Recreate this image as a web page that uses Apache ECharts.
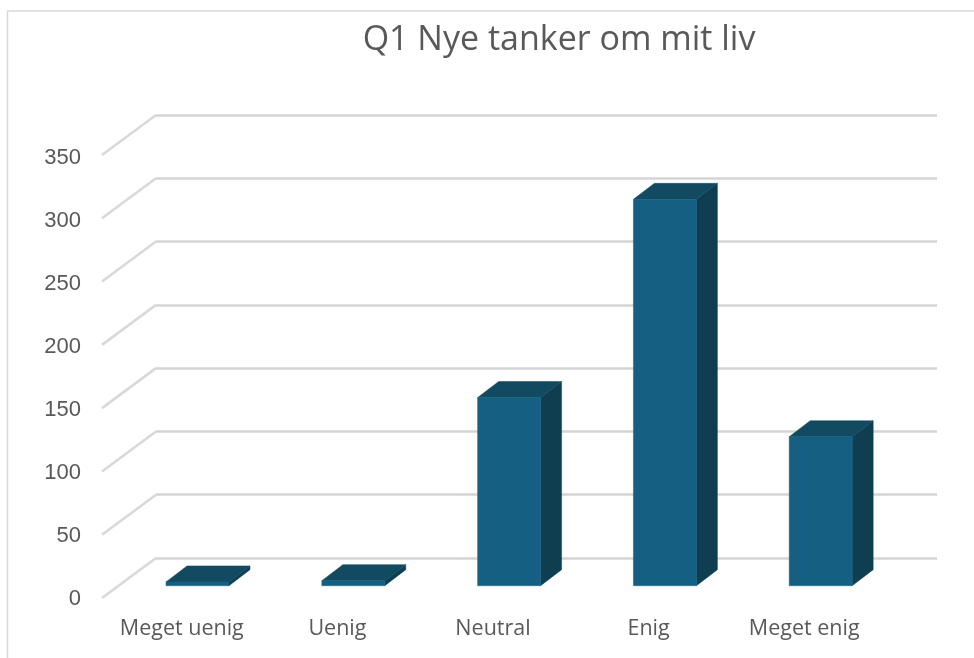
<!DOCTYPE html>
<html><head><meta charset="utf-8">
<style>html,body{margin:0;padding:0;background:#fff}#c{width:974px;height:658px}</style>
<script src="https://cdn.jsdelivr.net/npm/echarts@6/dist/echarts.min.js"></script>
</head><body><div id="c"></div>
<script>
const titleText = 'Q1 Nye tanker om mit liv';
const categories = ['Meget uenig', 'Uenig', 'Neutral', 'Enig', 'Meget enig'];
const values = [3, 4, 149, 306, 118];
const ticks = [0, 50, 100, 150, 200, 250, 300, 350];

const FRONT = '#156082', TOP = '#124a62', SIDE = '#0e3e50';
const DX = 21, DY = 16, BAR_RATIO = 0.404;
const WALL_DX = 54, WALL_DY = 40;
const TXT = '#595959';
const hiddenCat = i => ({type:'category', gridIndex:i, data:categories, show:false});
const hiddenVal = i => ({type:'value', gridIndex:i, min:0, max:350, interval:50, show:false});

const chart = echarts.init(document.getElementById('c'), null, {renderer:'canvas'});
chart.setOption({
  animation:false,
  backgroundColor:'#fff',
  title:{text:titleText, left:560, top:18, textAlign:'center',
    textStyle:{color:TXT, fontFamily:'Open Sans', fontSize:34, fontWeight:'normal'}},
  graphic:[
    {type:'polyline', silent:true, shape:{points:[[7.5,658],[7.5,11],[974,11]]},
     style:{stroke:'#d9d9d9', lineWidth:1.5, fill:null}}
  ],
  grid:[
    {left:156, right:37, top:115, height:443},
    {left:104, width:778, top:158, height:441},
    {left:119.6, width:779, top:143.8, height:441.9}
  ],
  xAxis:[
    hiddenCat(0),
    {type:'category', gridIndex:1, data:categories, axisLine:{show:false}, axisTick:{show:false},
     axisLabel:{color:TXT, fontFamily:'Open Sans', fontSize:21.5, margin:19, interval:0, hideOverlap:false}},
    hiddenCat(2)
  ],
  yAxis:[
    {type:'value', gridIndex:0, min:0, max:350, interval:50, axisLine:{show:false}, axisTick:{show:false},
     axisLabel:{show:false}, splitLine:{show:true, lineStyle:{color:'#d4d4d4', width:2.6}}},
    {type:'value', gridIndex:1, min:0, max:350, interval:50, axisLine:{show:false}, axisTick:{show:false},
     axisLabel:{color:TXT, fontFamily:'Liberation Sans', fontSize:22, margin:23}, splitLine:{show:false}},
    hiddenVal(2)
  ],
  series:[
    {type:'custom', xAxisIndex:0, yAxisIndex:0, silent:true, z:1,
     data:ticks.map(v=>[0,v]),
     renderItem(params, api){
       const y = api.coord([0, api.value(1)])[1];
       const x = params.coordSys.x;
       return {type:'line', shape:{x1:x, y1:y, x2:x-WALL_DX, y2:y+WALL_DY},
         style:{stroke:'#d9d9d9', lineWidth:2.6}};
     }},
    {type:'custom', xAxisIndex:2, yAxisIndex:2, silent:true, z:3,
     data:values.map((v,i)=>[i,v]),
     renderItem(params, api){
       const top = api.coord([api.value(0), api.value(1)]);
       const base = api.coord([api.value(0), 0]);
       const w = api.size([1,0])[0]*BAR_RATIO;
       const l = top[0]-w/2, r = top[0]+w/2, t = top[1], b = base[1];
       return {type:'group', children:[
         {type:'polygon', shape:{points:[[r,t],[r+DX,t-DY],[r+DX,b-DY],[r,b]]},
          style:{fill:SIDE, stroke:SIDE, lineWidth:0.5}},
         {type:'polygon', shape:{points:[[l,t],[l+DX,t-DY],[r+DX,t-DY],[r,t]]},
          style:{fill:TOP, stroke:TOP, lineWidth:0.5}},
         {type:'rect', shape:{x:l, y:t, width:w, height:b-t},
          style:{fill:FRONT, stroke:FRONT, lineWidth:0.5}}
       ]};
     }}
  ]
});
chart.setOption({title:{left:554}});
</script></body></html>
